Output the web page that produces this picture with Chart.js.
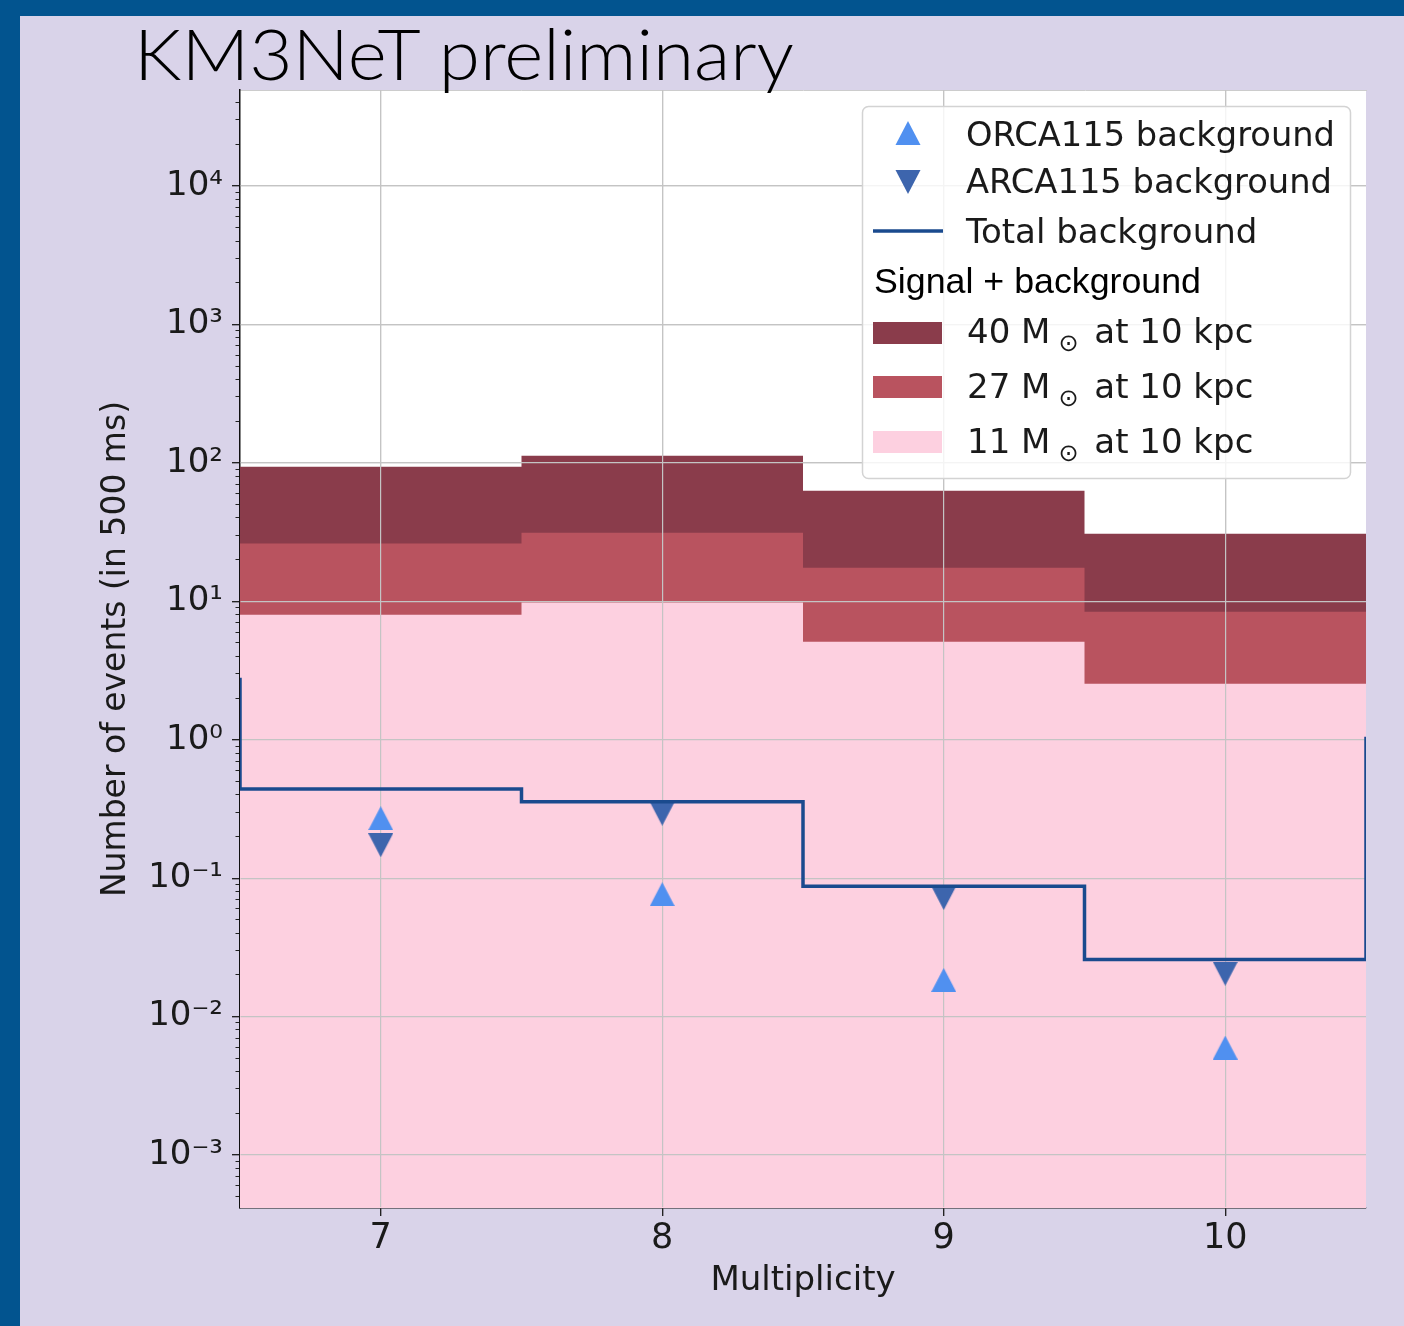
<!DOCTYPE html>
<html>
<head>
<meta charset="utf-8">
<script src="https://cdn.jsdelivr.net/npm/chart.js@4.4.1/dist/chart.umd.min.js"></script>
<style>
html,body{margin:0;padding:0;}
body{width:1404px;height:1326px;background:#02548f;position:relative;overflow:hidden;}
#panel{position:absolute;left:20px;top:16px;right:0;bottom:0;background:#d9d3e9;}
#c{position:absolute;left:0;top:0;}
#overlay{position:absolute;left:0;top:0;}
</style>
</head>
<body>
<div id="panel"></div>
<canvas id="c" width="1404" height="1326"></canvas>
<svg id="overlay" width="1404" height="1326" xmlns="http://www.w3.org/2000/svg">
  <text x="134" y="80" font-family="Lato, 'DejaVu Sans'" font-weight="300" font-size="70" textLength="660" lengthAdjust="spacingAndGlyphs" fill="#000">KM3NeT preliminary</text>
  <g id="legend" font-family="'DejaVu Sans'" font-size="34" fill="#1a1a1a">
    <rect x="862.5" y="106.5" width="488" height="372" rx="6" ry="6" fill="rgba(255,255,255,0.82)" stroke="#d3d3d3" stroke-width="1.5"/>
    <polygon points="908,121 895.5,145 920.5,145" fill="#5090f0"/>
    <polygon points="895.5,170 920.5,170 908,194" fill="#3d65ad"/>
    <line x1="873" y1="231" x2="943" y2="231" stroke="#1a4a8e" stroke-width="3.5"/>
    <rect x="873" y="322" width="69" height="22" fill="#8a3c4b"/>
    <rect x="873" y="376" width="69" height="22" fill="#b9535f"/>
    <rect x="873" y="431" width="69" height="22" fill="#fdd0e0"/>
    <text x="966" y="146" textLength="369" lengthAdjust="spacingAndGlyphs">ORCA115 background</text>
    <text x="966" y="193" textLength="366" lengthAdjust="spacingAndGlyphs">ARCA115 background</text>
    <text x="966" y="243">Total background</text>
    <text x="874" y="293" font-family="'Liberation Sans', Arial" font-size="35" textLength="327" lengthAdjust="spacingAndGlyphs" fill="#000">Signal + background</text>
    <text x="967" y="343">40 M<tspan font-size="24" dx="8" dy="8">⊙</tspan><tspan dx="5" dy="-8"> at 10 kpc</tspan></text>
    <text x="967" y="398">27 M<tspan font-size="24" dx="8" dy="8">⊙</tspan><tspan dx="5" dy="-8"> at 10 kpc</tspan></text>
    <text x="967" y="453">11 M<tspan font-size="24" dx="8" dy="8">⊙</tspan><tspan dx="5" dy="-8"> at 10 kpc</tspan></text>
  </g>
</svg>
<script>
// ---- data ----
const binEdges = [6.5, 7.5, 8.5, 9.5, 10.5];
const multiplicity = [7, 8, 9, 10];
const sig40 = [93.9, 112.7, 63, 30.8];      // 40 Msun at 10 kpc (signal + background)
const sig27 = [26.1, 31.3, 17.5, 8.4];      // 27 Msun at 10 kpc
const sig11 = [8.0, 9.8, 5.1, 2.54];        // 11 Msun at 10 kpc
const totalBg = [0.441, 0.357, 0.0875, 0.0258];
const totalBgEdgeTops = [2.8, 1.05];        // heights of the vertical end segments of the step line
const orcaBg = [0.271, 0.0766, 0.0184, 0.00597];
const arcaBg = [0.173, 0.292, 0.0718, 0.0204];
const yMajorTicks = [1e-3, 1e-2, 1e-1, 1, 10, 100, 1e3, 1e4];
const yMinorMantissas = [2, 3, 4, 5, 6, 7, 8, 9];
const yRange = [4.14e-4, 49400];
const xRange = [6.5, 10.5];

const COLORS = {
  c40: '#8a3c4b', c27: '#b9535f', c11: '#fdd0e0',
  orca: '#5090f0', arca: '#3d65ad', line: '#1a4a8e',
  grid: '#c4c4c4', text: '#1a1a1a'
};

function stairs(values) {
  const pts = values.map((v, i) => ({x: binEdges[i], y: v}));
  pts.push({x: binEdges[values.length], y: values[values.length - 1]});
  return pts;
}
function totalLine() {
  const pts = [{x: binEdges[0], y: totalBgEdgeTops[0]}];
  totalBg.forEach((v, i) => pts.push({x: binEdges[i], y: v}));
  pts.push({x: binEdges[totalBg.length], y: totalBgEdgeTops[1]});
  return pts;
}
function markerPoints(vals) { return multiplicity.map((m, i) => ({x: m, y: vals[i]})); }

function triangleCanvas(color, down) {
  const w = 25, h = 24;
  const cv = document.createElement('canvas');
  cv.width = w; cv.height = h;
  const g = cv.getContext('2d');
  g.fillStyle = color;
  g.beginPath();
  if (down) { g.moveTo(0, 0); g.lineTo(w, 0); g.lineTo(w / 2, h); }
  else { g.moveTo(w / 2, 0); g.lineTo(w, h); g.lineTo(0, h); }
  g.closePath(); g.fill();
  return cv;
}

const minorTicks = [];
for (let e = -4; e <= 4; e++) {
  yMinorMantissas.forEach(m => {
    const v = m * Math.pow(10, e);
    if (v >= yRange[0] && v <= yRange[1]) minorTicks.push(v);
  });
}
const SUP = {'-': '\u207B', '0': '\u2070', '1': '\u00B9', '2': '\u00B2', '3': '\u00B3', '4': '\u2074',
  '5': '\u2075', '6': '\u2076', '7': '\u2077', '8': '\u2078', '9': '\u2079'};
function powLabel(v) {
  const e = Math.round(Math.log10(v));
  return '10' + String(e).split('').map(ch => SUP[ch]).join('');
}

Chart.defaults.font.family = "'DejaVu Sans'";
Chart.defaults.color = COLORS.text;

const chartAreaBg = {
  id: 'chartAreaBg',
  beforeDraw(chart) {
    const {ctx, chartArea: a} = chart;
    ctx.save(); ctx.fillStyle = '#ffffff';
    ctx.fillRect(a.left, a.top, a.right - a.left, a.bottom - a.top);
    ctx.restore();
  }
};
// matplotlib draws the grid above the filled histograms but below lines/markers
const gridAboveFills = {
  id: 'gridAboveFills',
  afterDatasetDraw(chart, args) {
    if (chart.data.datasets[args.index].label === '11 Msun') {
      chart.scales.x.drawGrid(chart.chartArea);
      chart.scales.y.drawGrid(chart.chartArea);
    }
  }
};

const fillDs = (label, vals, color, order) => ({
  label, data: stairs(vals), stepped: 'before', fill: 'start',
  backgroundColor: color, borderColor: 'rgba(0,0,0,0)', borderWidth: 0,
  pointRadius: 0, order, yAxisID: 'y', xAxisID: 'x'
});

new Chart(document.getElementById('c'), {
  type: 'line',
  data: {
    datasets: [
      {label: 'Total background', data: totalLine(), stepped: 'before', fill: false,
       borderColor: COLORS.line, borderWidth: 3.5, pointRadius: 0, order: 0, yAxisID: 'y', xAxisID: 'x'},
      {label: 'ARCA115 background', data: markerPoints(arcaBg), showLine: false,
       pointStyle: triangleCanvas(COLORS.arca, true), pointRadius: 12, order: 1, yAxisID: 'y', xAxisID: 'x'},
      {label: 'ORCA115 background', data: markerPoints(orcaBg), showLine: false,
       pointStyle: triangleCanvas(COLORS.orca, false), pointRadius: 12, order: 2, yAxisID: 'y', xAxisID: 'x'},
      fillDs('11 Msun', sig11, COLORS.c11, 3),
      fillDs('27 Msun', sig27, COLORS.c27, 4),
      fillDs('40 Msun', sig40, COLORS.c40, 5)
    ]
  },
  options: {
    responsive: false,
    animation: false,
    events: [],
    layout: {padding: {top: 90, right: 38, left: 0, bottom: 0}},
    plugins: {legend: {display: false}, tooltip: {enabled: false}},
    scales: {
      x: {
        type: 'linear', position: 'bottom', min: xRange[0], max: xRange[1],
        afterBuildTicks: s => { s.ticks = multiplicity.map(v => ({value: v})); },
        afterFit: s => { s.height = 118; },
        grid: {color: COLORS.grid, lineWidth: 1.2, tickLength: 8, tickColor: '#222', tickWidth: 1.2},
        border: {color: '#111', width: 1.5},
        ticks: {font: {size: 35}, padding: 2, maxRotation: 0, autoSkip: false, color: COLORS.text},
        title: {display: true, text: 'Multiplicity', font: {size: 34}, color: COLORS.text,
                padding: {top: 0, bottom: 24}}
      },
      xTop: {
        type: 'linear', position: 'top', min: xRange[0], max: xRange[1],
        afterBuildTicks: s => { s.ticks = []; },
        afterFit: s => { s.height = 0; },
        grid: {display: false}, ticks: {display: false},
        border: {display: true, color: '#cccccc', width: 1}
      },
      y: {
        type: 'logarithmic', position: 'left', weight: 1, min: yRange[0], max: yRange[1],
        afterBuildTicks: s => { s.ticks = yMajorTicks.map(v => ({value: v, major: true})); },
        afterFit: s => { s.width = 240; },
        grid: {color: COLORS.grid, lineWidth: 1.2, tickLength: 8, tickColor: '#222', tickWidth: 1.2},
        border: {color: '#111', width: 1.5},
        ticks: {callback: v => powLabel(v), font: {size: 34}, padding: 9, autoSkip: false, color: COLORS.text},
        title: {display: true, text: 'Number of events (in 500 ms)', font: {size: 33}, color: COLORS.text,
                padding: {top: 97, bottom: 0}}
      },
      yMinor: {
        type: 'logarithmic', position: 'left', weight: 0, min: yRange[0], max: yRange[1],
        afterBuildTicks: s => { s.ticks = minorTicks.map(v => ({value: v})); },
        afterFit: s => { s.width = 0; },
        grid: {drawOnChartArea: false, tickLength: 4.5, tickColor: '#222', tickWidth: 1},
        ticks: {display: false},
        border: {display: false}
      }
    }
  },
  plugins: [chartAreaBg, gridAboveFills]
});
</script>
</body>
</html>
